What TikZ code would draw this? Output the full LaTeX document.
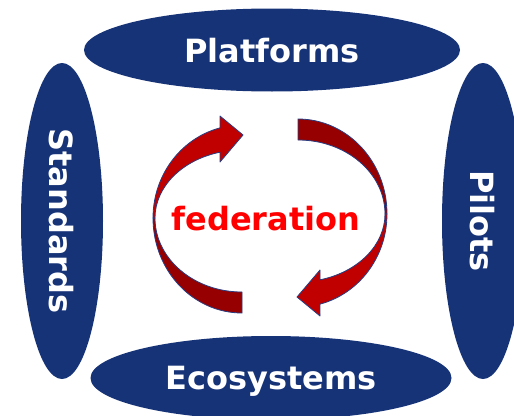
\documentclass[tikz,border=0pt]{standalone}
\usepackage{fontspec}
\setmainfont{DejaVu Sans}
\usetikzlibrary{shapes.geometric}
\definecolor{navy}{RGB}{22,51,120}
\definecolor{ringred}{RGB}{192,0,0}
\definecolor{ringdark}{RGB}{150,0,0}
\definecolor{ringline}{RGB}{40,60,130}

\begin{document}
\begin{tikzpicture}[x=1pt,y=-1pt,
        topic/.style={ellipse,fill=navy,text=white,inner sep=0pt,text depth=0pt,
            font=\bfseries\fontsize{32}{38}\selectfont},
        ribbon/.style={draw=ringline,line width=0.8pt,line join=round}]

    \clip (0,0) rectangle (514,415);

    \node[topic,minimum width=376pt,minimum height=83pt] (platforms) at (272,50) {Platforms};
    \node[topic,minimum width=361pt,minimum height=84pt] (ecosystems) at (271,378) {Ecosystems};
    \node[topic,rotate=-90,minimum width=316pt,minimum height=82pt] (standards) at (62,221) {Standards};
    \node[topic,rotate=-90,minimum width=316pt,minimum height=82pt] (pilots) at (483,221) {Pilots};

    % two half rings, the second one turned round the middle
    \foreach \turn in {0,180}{
        \begin{scope}[rotate around={\turn:(270,216)}]
            % tail half, darker
            \filldraw[ribbon,fill=ringdark] (242,313) arc[start angle=90,end angle=180,x radius=89,y radius=95]
                -- (155,218) arc[start angle=180,end angle=90,x radius=87,y radius=74] -- cycle;
            % head half
            \filldraw[ribbon,fill=ringred] (153,218) arc[start angle=180,end angle=255.7,x radius=89,y radius=93]
                -- (220,116) -- (243,135) -- (220,162)
                -- (220,152.2) arc[start angle=255.35,end angle=180,x radius=87,y radius=68] -- cycle;
        \end{scope}
    }

    \node[text=red,inner sep=0pt,text depth=0pt,font=\bfseries\fontsize{32}{38}\selectfont] (fed) at (266,218) {federation};
\end{tikzpicture}
\end{document}
